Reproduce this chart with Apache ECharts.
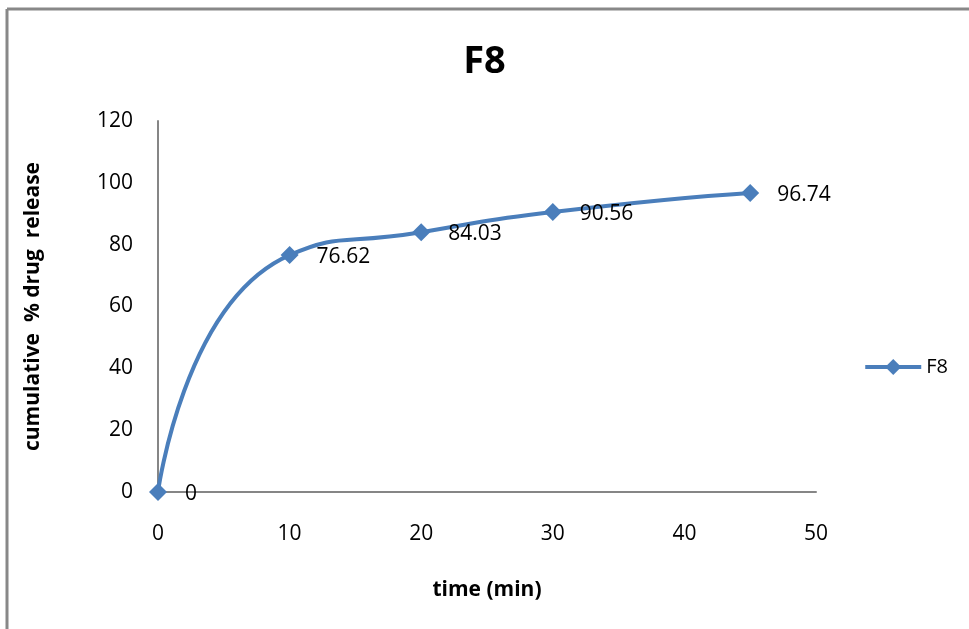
<!DOCTYPE html>
<html>
<head>
<meta charset="utf-8">
<script src="https://cdn.jsdelivr.net/npm/echarts@6/dist/echarts.min.js"></script>
<style>
  html, body { margin: 0; padding: 0; background: #fff; }
  #chart { width: 969px; height: 629px; }
</style>
</head>
<body>
<div id="chart"></div>
<script>
// F8 cumulative drug release
const times = [0, 10, 20, 30, 45];
const release = [0, 76.62, 84.03, 90.56, 96.74];
const seriesName = "F8";

const chart = echarts.init(document.getElementById("chart"));
const font = "Open Sans, Liberation Sans, sans-serif";
const blue = "#4a7ebb";

const option = {
  backgroundColor: "#fff",
  animation: false,
  title: {
    text: "F8",
    left: "center",
    top: 38,
    textStyle: { fontFamily: font, fontSize: 38, fontWeight: "bold", color: "#000" },
  },
  legend: {
    data: [seriesName],
    right: 16,
    top: 352,
    itemWidth: 56,
    itemHeight: 20,
    itemGap: 4,
    lineStyle: { width: 4 },
    textStyle: { fontFamily: font, fontSize: 20, color: "#000" },
  },
  grid: { left: 158, right: 153, top: 121, bottom: 137 },
  xAxis: {
    type: "value",
    min: 0,
    max: 50,
    interval: 10,
    name: "time (min)",
    nameLocation: "middle",
    nameGap: 88,
    nameTextStyle: { fontFamily: font, fontSize: 21, fontWeight: "bold", color: "#000" },
    axisLine: { lineStyle: { color: "#868686", width: 2 } },
    axisTick: { show: false },
    splitLine: { show: false },
    axisLabel: { fontFamily: font, fontSize: 21, color: "#000", margin: 32 },
  },
  yAxis: {
    type: "value",
    min: 0,
    max: 120,
    interval: 20,
    name: "cumulative  % drug  release",
    nameLocation: "middle",
    nameGap: 114,
    nameTextStyle: { fontFamily: font, fontSize: 21, fontWeight: "bold", color: "#000" },
    axisLine: { show: true, lineStyle: { color: "#868686", width: 2 } },
    axisTick: { show: false },
    splitLine: { show: false },
    axisLabel: { fontFamily: font, fontSize: 21, color: "#000", margin: 25 },
  },
  graphic: [
    { type: "line", shape: { x1: 7, y1: 9, x2: 969, y2: 9 }, style: { stroke: "#888", lineWidth: 3 } },
    { type: "line", shape: { x1: 7, y1: 9, x2: 7, y2: 629 }, style: { stroke: "#888", lineWidth: 3 } },
  ],
  series: [
    {
      name: seriesName,
      type: "line",
      data: times.map((t, i) => [t, release[i]]),
      smooth: 0.6,
      symbol: "diamond",
      symbolSize: 18,
      lineStyle: { color: blue, width: 4 },
      itemStyle: { color: blue },
      label: {
        show: true,
        position: "right",
        distance: 18,
        offset: [0, 2],
        fontFamily: font,
        fontSize: 21,
        color: "#000",
        formatter: (p) => String(p.value[1]),
      },
    },
  ],
};

chart.setOption(option);
</script>
</body>
</html>
